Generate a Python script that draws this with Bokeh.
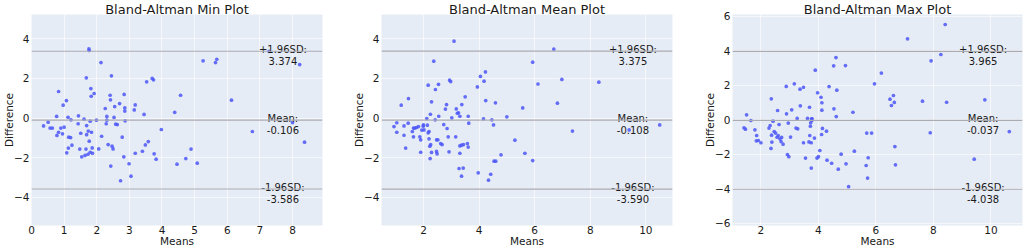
from bokeh.plotting import figure
from bokeh.layouts import row
from bokeh.models import Span, FixedTicker, Range1d
from bokeh.core.properties import value
from bokeh.embed import file_html
from bokeh.resources import INLINE

titles = ["Bland-Altman Min Plot", "Bland-Altman Mean Plot", "Bland-Altman Max Plot"]
x_label = "Means"
y_label = "Difference"

min_means = [0.37, 0.51, 0.57, 0.64, 0.77, 0.78, 0.83, 0.83, 0.90, 0.97, 0.95, 1.00, 1.07, 1.08,
             1.12, 1.14, 1.13, 1.20, 1.21, 1.24, 1.43, 1.44, 1.48, 1.51, 1.54, 1.61, 1.64, 1.67,
             1.68, 1.69, 1.69, 1.74, 1.76, 1.77, 1.73, 1.77, 1.80, 1.80, 1.82, 1.83, 1.84, 1.86,
             1.87, 1.92, 1.99, 2.06, 2.13, 2.15, 2.26, 2.31, 2.31, 2.29, 2.35, 2.41, 2.42, 2.45,
             2.43, 2.47, 2.50, 2.53, 2.55, 2.58, 2.63, 2.70, 2.73, 2.78, 2.83, 2.84, 2.86, 2.86,
             2.87, 2.99, 3.05, 3.15, 3.18, 3.18, 3.40, 3.45, 3.49, 3.53, 3.58, 3.70, 3.74, 3.76,
             3.82, 3.98, 4.39, 4.46, 4.57, 4.73, 4.89, 5.08, 5.26, 5.64, 5.68, 6.13, 6.77, 7.28,
             8.00, 8.22, 8.37]
min_diffs = [-0.40, -0.21, -0.51, -0.51, 0.08, -0.88, 1.34, -0.72, -0.51, 0.65, -0.80, -0.46, 0.88, -1.76,
             0.04, -0.97, -1.52, -0.99, -0.09, -1.37, -0.29, 0.11, -1.57, -0.77, -1.96, -0.06, -1.89, -1.57,
             2.03, -0.84, -0.38, -0.66, 3.49, 3.41, -1.83, -1.17, -0.16, -1.73, 1.49, 1.10, -0.72, -1.51,
             -1.78, 1.24, -0.11, -1.56, 2.80, -0.92, 0.48, 0.08, -0.11, -0.29, -1.34, 1.15, 0.92, 2.13,
             -2.43, -1.42, -1.56, 0.03, 0.58, -0.31, -0.33, 0.73, -3.17, -0.97, -1.96, 1.19, 0.51, 0.35,
             -0.14, -2.31, -2.94, 0.41, 0.66, -1.78, -1.68, 0.18, -1.36, 1.83, -1.19, 2.00, 1.93, -1.81,
             -2.08, -0.58, 0.29, -2.33, 1.15, -2.05, -1.57, -2.28, 2.89, 2.80, 2.97, 0.90, -0.68, 3.37,
             -0.23, 2.70, -1.22]

mean_means = [0.94, 1.04, 1.04, 1.20, 1.30, 1.30, 1.36, 1.45, 1.46, 1.60, 1.64, 1.64, 1.69, 1.75,
              1.82, 1.87, 1.90, 1.90, 1.94, 1.99, 2.00, 2.02, 2.12, 2.14, 2.17, 2.17, 2.20, 2.20,
              2.23, 2.24, 2.25, 2.26, 2.29, 2.29, 2.37, 2.42, 2.43, 2.47, 2.47, 2.49, 2.52, 2.54,
              2.55, 2.62, 2.67, 2.73, 2.79, 2.83, 2.85, 2.89, 2.92, 2.94, 2.98, 3.02, 3.10, 3.16,
              3.18, 3.22, 3.26, 3.28, 3.31, 3.31, 3.31, 3.37, 3.37, 3.38, 3.43, 3.44, 3.50, 3.58,
              3.61, 3.61, 3.63, 3.97, 3.94, 4.05, 4.16, 4.18, 4.23, 4.24, 4.34, 4.42, 4.46, 4.52,
              4.54, 4.60, 4.59, 4.79, 5.00, 5.29, 5.57, 5.65, 5.93, 5.93, 6.12, 6.69, 6.82, 6.98,
              7.36, 8.31, 9.40, 10.50]
mean_diffs = [-0.43, -0.24, -0.72, 0.65, -0.40, -0.87, -1.52, -0.26, 0.98, -0.68, -0.51, -0.95, -0.51, -0.48,
              -0.43, -0.95, -1.10, -1.73, -0.61, -0.41, -0.35, -0.60, -0.03, -0.36, 1.66, -0.75, -0.68, -1.05,
              -1.42, -2.05, 0.19, -1.34, -1.74, 0.82, 2.87, -0.09, 1.44, -1.10, -1.69, -1.81, -1.10, 1.70,
              0.09, -1.29, -1.34, -0.33, 0.45, 0.68, -0.53, -0.95, -1.71, 1.91, 1.84, 0.01, 3.88, -0.95,
              0.46, 0.24, 0.26, -2.55, 0.09, -1.41, -1.78, -1.37, -2.94, 0.68, -2.53, -1.34, 1.07, -1.29,
              0.09, -1.47, -0.26, -2.77, 1.57, 2.10, -0.04, 1.86, 2.33, 0.88, -3.14, -2.84, -0.09, -0.35,
              -2.18, -2.18, 0.77, -1.86, 0.06, -1.12, 0.51, -1.78, 2.82, -2.15, 1.72, 3.48, 0.75, 1.95,
              -0.66, 1.81, -0.60, -0.35]

max_means = [1.41, 1.46, 1.50, 1.65, 1.79, 1.85, 1.84, 1.91, 2.00, 2.28, 2.32, 2.36, 2.35, 2.37,
             2.38, 2.42, 2.46, 2.51, 2.56, 2.58, 2.60, 2.63, 2.66, 2.70, 2.72, 2.77, 2.88, 2.89,
             2.92, 2.95, 2.97, 3.03, 3.07, 3.16, 3.22, 3.26, 3.28, 3.36, 3.37, 3.48, 3.48, 3.55,
             3.62, 3.67, 3.69, 3.70, 3.72, 3.73, 3.75, 3.75, 3.76, 3.77, 3.78, 3.86, 3.89, 3.95,
             3.97, 4.00, 4.05, 4.09, 4.11, 4.12, 4.12, 4.14, 4.28, 4.30, 4.37, 4.46, 4.53, 4.54,
             4.61, 4.62, 4.64, 4.69, 4.79, 4.94, 4.96, 5.05, 5.20, 5.25, 5.66, 5.68, 5.71, 5.73,
             5.85, 5.95, 6.19, 6.49, 6.54, 6.61, 6.64, 6.66, 6.68, 7.10, 7.62, 7.89, 7.92, 8.26,
             8.41, 8.46, 9.42, 9.79, 10.64]
max_diffs = [-0.47, -0.55, 0.28, -0.05, -0.59, -0.92, -1.23, -1.21, -1.34, -0.49, -0.34, 1.21, -1.67, -0.90,
             -1.30, -0.09, -0.69, -0.78, -1.02, 0.53, -0.92, -0.28, -1.11, -1.27, -1.03, -1.42, 1.93, 0.34,
             -2.02, -0.20, -2.15, -1.01, 0.57, 2.08, -0.49, 0.07, -0.53, 1.77, 0.80, 1.88, -1.34, -2.23,
             0.07, -1.29, 0.72, -0.92, -0.38, -0.18, -2.81, -1.34, 0.05, -0.05, 0.05, -1.07, 2.87, -2.23,
             1.56, -2.15, -1.79, 1.30, -0.86, 0.98, 0.55, -0.51, -0.67, -2.35, 1.92, -2.53, 3.12, 0.63,
             3.60, 0.18, 1.71, -2.87, -2.00, 3.14, -2.56, -3.89, 0.43, -1.83, -2.66, -0.78, -3.39, -2.21,
             -0.78, 2.08, 2.70, 1.19, 0.82, 1.40, 1.00, -1.56, -2.62, 4.69, 1.07, -0.76, 3.41, 3.78,
             5.52, 1.01, -2.29, 1.15, -0.69]

mean_lines = [-0.106, -0.108, -0.037]
upper_lines = [3.374, 3.375, 3.965]
lower_lines = [-3.586, -3.590, -4.038]

x_ticks = [[0, 1, 2, 3, 4, 5, 6, 7, 8], [2, 4, 6, 8, 10], [2, 4, 6, 8, 10]]
y_ticks = [[-4, -2, 0, 2, 4], [-4, -2, 0, 2, 4], [-6, -4, -2, 0, 2, 4, 6]]

x_ranges = [(0.0, 8.92), (0.49, 10.96), (1.01, 11.10)]
y_ranges = [(-5.43, 5.23), (-5.43, 5.23), (-6.14, 6.10)]

widths = [340, 340, 344]
borders_lr = [(31, 18), (41, 8), (52, 2)]
H = 249

FONT = "DejaVu Sans"
BG = "#E6ECF5"
PT = "#4C57F7"
LINE = "#ABABB2"
TXT = "#1a1a1a"

datasets = [(min_means, min_diffs), (mean_means, mean_diffs), (max_means, max_diffs)]

figs = []
for i in range(3):
    xs, ys = datasets[i]
    bl, br = borders_lr[i]
    p = figure(width=widths[i], height=H, output_backend="svg", toolbar_location=None,
               title=titles[i],
               x_range=Range1d(*x_ranges[i]), y_range=Range1d(*y_ranges[i]),
               min_border_left=bl, min_border_right=br,
               min_border_top=14, min_border_bottom=24)
    p.background_fill_color = BG
    p.border_fill_color = "white"
    p.outline_line_color = None

    p.title.align = "center"
    p.title.text_font = FONT
    p.title.text_font_size = "13px"
    p.title.text_font_style = "normal"
    p.title.text_color = TXT
    p.title.standoff = -4
    p.title.offset = 0
    p.title.text_line_height = 0.8

    for ax in (p.xaxis[0], p.yaxis[0]):
        ax.axis_line_color = None
        ax.major_tick_line_color = None
        ax.minor_tick_line_color = None
        ax.major_tick_out = 0
        ax.major_tick_in = 0
        ax.minor_tick_out = 0
        ax.minor_tick_in = 0
        ax.major_label_text_font = FONT
        ax.major_label_text_font_size = "10.5px"
        ax.major_label_text_color = TXT
        ax.major_label_text_line_height = 1.0
        ax.axis_label_text_font = FONT
        ax.axis_label_text_font_size = "10.5px"
        ax.axis_label_text_font_style = "normal"
        ax.axis_label_text_color = TXT
        ax.axis_label_text_line_height = 1.0
    p.xaxis[0].major_label_standoff = 0
    p.xaxis[0].axis_label_standoff = -2
    p.yaxis[0].major_label_standoff = 2
    p.yaxis[0].axis_label_standoff = -4
    p.xaxis[0].axis_label = x_label
    p.yaxis[0].axis_label = y_label

    p.xaxis[0].ticker = FixedTicker(ticks=x_ticks[i])
    p.yaxis[0].ticker = FixedTicker(ticks=y_ticks[i])
    p.yaxis[0].major_label_overrides = {t: ("\u2212" + str(-t)) for t in y_ticks[i] if t < 0}

    p.xgrid.grid_line_color = "white"
    p.ygrid.grid_line_color = "white"
    p.xgrid.grid_line_alpha = 0.6
    p.ygrid.grid_line_alpha = 0.6

    for v in (upper_lines[i], mean_lines[i], lower_lines[i]):
        p.add_layout(Span(location=v, dimension="width", line_color=LINE, line_width=1.2))

    p.scatter(xs, ys, size=3.7, fill_color=PT, line_color=None, fill_alpha=0.85)

    x0, x1 = x_ranges[i]
    tx = x0 + 0.864 * (x1 - x0)
    labels_top = ["+1.96SD:", "Mean:", "-1.96SD:"]
    vals = [upper_lines[i], mean_lines[i], lower_lines[i]]
    labels_bot = ["%.3f" % v for v in vals]
    p.text(x=[tx] * 3, y=vals, text=labels_top, text_align="center", text_baseline="alphabetic",
           y_offset=-2, text_font=value(FONT), text_font_size="10px", text_color=TXT)
    p.text(x=[tx] * 3, y=vals, text=labels_bot, text_align="center", text_baseline="alphabetic",
           y_offset=10, text_font=value(FONT), text_font_size="10px", text_color=TXT)

    figs.append(p)

layout = row(*figs)
open("out.html", "w").write(file_html(layout, INLINE))
